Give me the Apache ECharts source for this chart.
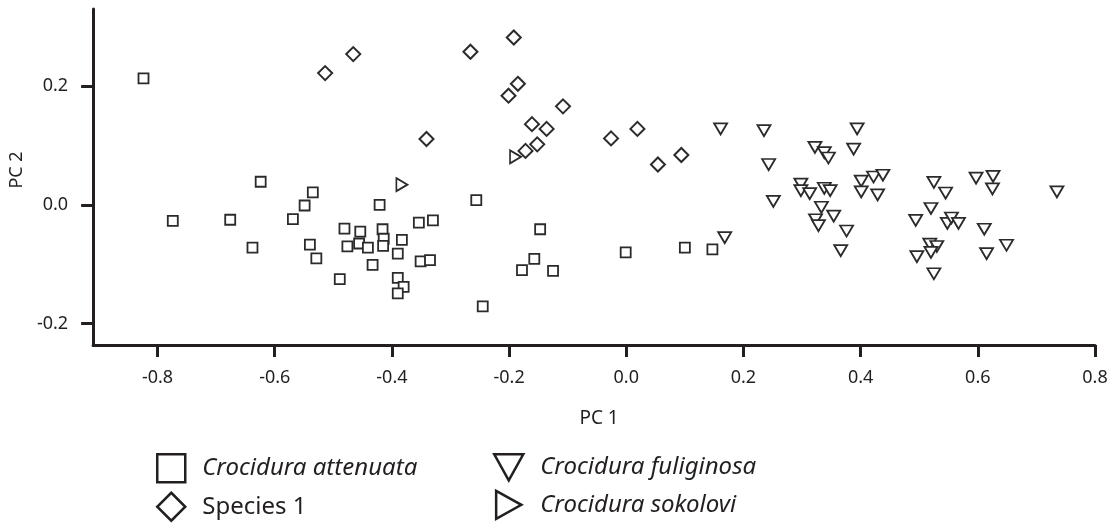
<!DOCTYPE html>
<html>
<head>
<meta charset="utf-8">
<script src="https://cdn.jsdelivr.net/npm/echarts@6/dist/echarts.min.js"></script>
<style>
  html, body { margin: 0; padding: 0; background: #fff; }
  #main { width: 1114px; height: 532px; }
</style>
</head>
<body>
<div id="main"></div>
<script>
// PC scores, one array per group
var attenuata = [
  [-0.824, 0.213], [-0.774, -0.027], [-0.676, -0.025], [-0.638, -0.072], [-0.624, 0.039],
  [-0.535, 0.021], [-0.549, -0.001], [-0.569, -0.024], [-0.540, -0.067], [-0.529, -0.090],
  [-0.489, -0.125], [-0.481, -0.040], [-0.476, -0.070], [-0.454, -0.045], [-0.456, -0.065],
  [-0.441, -0.072], [-0.433, -0.101], [-0.421, 0.000], [-0.416, -0.041], [-0.414, -0.057],
  [-0.415, -0.069], [-0.390, -0.082], [-0.383, -0.059], [-0.354, -0.030], [-0.330, -0.026],
  [-0.351, -0.095], [-0.335, -0.093], [-0.390, -0.123], [-0.380, -0.138], [-0.390, -0.149],
  [-0.256, 0.008], [-0.147, -0.041], [-0.157, -0.091], [-0.178, -0.110], [-0.125, -0.111],
  [-0.245, -0.171], [-0.001, -0.080], [0.100, -0.072], [0.147, -0.075]
];
var species1 = [
  [-0.514, 0.222], [-0.466, 0.254], [-0.192, 0.282], [-0.266, 0.258], [-0.185, 0.204],
  [-0.201, 0.184], [-0.108, 0.166], [-0.161, 0.136], [-0.136, 0.128], [-0.152, 0.102],
  [-0.172, 0.091], [-0.341, 0.111], [-0.026, 0.112], [0.019, 0.128], [0.054, 0.068],
  [0.094, 0.084]
];
var fuliginosa = [
  [0.161, 0.128], [0.235, 0.125], [0.394, 0.128], [0.243, 0.068], [0.322, 0.097],
  [0.338, 0.088], [0.345, 0.079], [0.388, 0.094], [0.251, 0.006], [0.298, 0.035],
  [0.298, 0.024], [0.313, 0.019], [0.338, 0.028], [0.348, 0.024], [0.401, 0.040],
  [0.401, 0.022], [0.422, 0.047], [0.438, 0.050], [0.429, 0.017], [0.333, -0.004],
  [0.323, -0.025], [0.328, -0.035], [0.354, -0.019], [0.376, -0.044], [0.366, -0.077],
  [0.168, -0.055], [0.525, 0.038], [0.545, 0.020], [0.597, 0.045], [0.626, 0.048],
  [0.625, 0.027], [0.735, 0.022], [0.520, -0.006], [0.494, -0.026], [0.548, -0.031],
  [0.555, -0.022], [0.567, -0.031], [0.611, -0.041], [0.649, -0.068], [0.615, -0.082],
  [0.518, -0.066], [0.530, -0.070], [0.520, -0.080], [0.496, -0.087], [0.525, -0.116]
];
var sokolovi = [
  [-0.383, 0.034], [-0.189, 0.081]
];

var xTicks = [-0.8, -0.6, -0.4, -0.2, 0.0, 0.2, 0.4, 0.6, 0.8];
var yTicks = [-0.2, 0.0, 0.2];

var ink = '#231f20';
var triDown = 'path://M0,0L20,0L10,18Z';
var triRight = 'path://M0,0L18,10L0,20Z';

var myChart = echarts.init(document.getElementById('main'));

var legendText = {
  fontSize: 24,
  color: ink,
  fontFamily: 'Noto Sans',
  padding: [0, 0, 0, 12],
  rich: {
    i: { fontStyle: 'italic', fontSize: 24, fontFamily: 'Noto Sans', color: ink },
    n: { fontSize: 24, fontFamily: 'Noto Sans', color: ink }
  }
};
function legendFmt(name) {
  return name === 'Species 1' ? '{n|' + name + '}' : '{i|' + name + '}';
}

var option = {
  animation: false,
  backgroundColor: '#fff',
  grid: { left: 85, right: 19, top: 9, bottom: 187, containLabel: false },
  legend: [{
    orient: 'vertical',
    left: 151, top: 448, height: 120,
    itemWidth: 28, itemHeight: 28, itemGap: 8,
    itemStyle: { color: '#fff', borderColor: ink, borderWidth: 2.5 },
    textStyle: legendText,
    formatter: legendFmt,
    data: [
      { name: 'Crocidura attenuata', icon: 'rect' },
      { name: 'Species 1', icon: 'diamond' }
    ]
  }, {
    orient: 'vertical',
    left: 488, top: 448, height: 120,
    itemWidth: 29, itemHeight: 28, itemGap: 8,
    itemStyle: { color: '#fff', borderColor: ink, borderWidth: 2.5 },
    textStyle: legendText,
    formatter: legendFmt,
    data: [
      { name: 'Crocidura fuliginosa', icon: triDown },
      { name: 'Crocidura sokolovi', icon: triRight }
    ]
  }],
  xAxis: {
    type: 'value',
    min: -0.91, max: 0.8,
    name: 'PC 1',
    nameLocation: 'middle',
    nameGap: 64,
    nameTextStyle: { fontSize: 19, color: ink, fontFamily: 'Noto Sans', padding: [0, 0, 0, 10] },
    axisLine: { onZero: false, lineStyle: { color: ink, width: 3 } },
    axisTick: { show: true, length: 12, lineStyle: { color: ink, width: 3 }, customValues: xTicks },
    axisLabel: {
      margin: 24, fontSize: 18, color: ink, fontFamily: 'Noto Sans',
      customValues: xTicks,
      formatter: function (v) { return v.toFixed(1); }
    },
    splitLine: { show: false }
  },
  yAxis: {
    type: 'value',
    min: -0.236, max: 0.33,
    name: 'PC 2',
    nameLocation: 'middle',
    nameGap: 58,
    nameTextStyle: { fontSize: 18, color: ink, fontFamily: 'Noto Sans', padding: [0, 0, 0, 14] },
    axisLine: { onZero: false, lineStyle: { color: ink, width: 3 } },
    axisTick: { show: true, length: 12, lineStyle: { color: ink, width: 3 }, customValues: yTicks },
    axisLabel: {
      margin: 25, fontSize: 18, color: ink, fontFamily: 'Noto Sans',
      customValues: yTicks,
      formatter: function (v) { return v.toFixed(1); }
    },
    splitLine: { show: false }
  },
  series: [{
    name: 'Crocidura attenuata',
    type: 'scatter',
    symbol: 'rect',
    symbolSize: 10,
    itemStyle: { color: '#fff', borderColor: '#2b2b2b', borderWidth: 1.8, opacity: 1 },
    data: attenuata
  }, {
    name: 'Species 1',
    type: 'scatter',
    symbol: 'diamond',
    symbolSize: [14, 14],
    itemStyle: { color: '#fff', borderColor: '#2b2b2b', borderWidth: 2, opacity: 1 },
    data: species1
  }, {
    name: 'Crocidura fuliginosa',
    type: 'scatter',
    symbol: triDown,
    symbolSize: [13, 11],
    itemStyle: { color: '#fff', borderColor: '#2b2b2b', borderWidth: 1.8, opacity: 1 },
    data: fuliginosa
  }, {
    name: 'Crocidura sokolovi',
    type: 'scatter',
    symbol: triRight,
    symbolSize: [11, 13],
    itemStyle: { color: '#fff', borderColor: '#2b2b2b', borderWidth: 1.8, opacity: 1 },
    data: sokolovi
  }]
};

myChart.setOption(option);
</script>
</body>
</html>
